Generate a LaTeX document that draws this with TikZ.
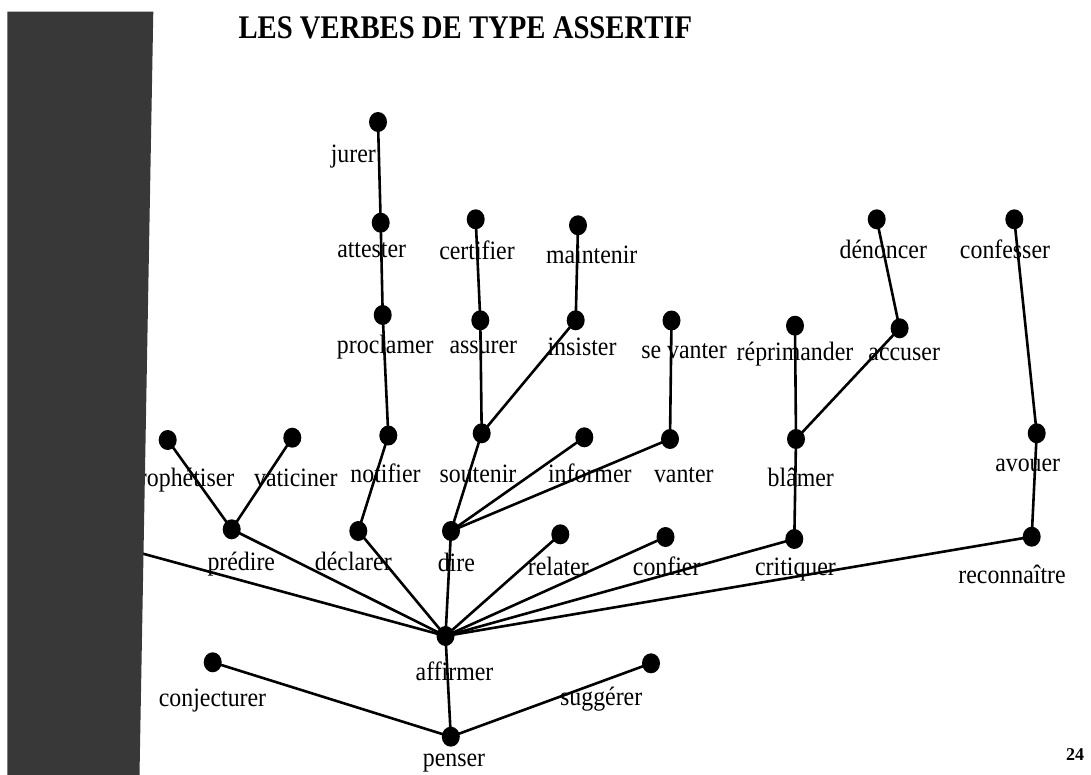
\documentclass[tikz,border=0pt]{standalone}
\usepackage{fontspec}
\usepackage{graphicx}
\setmainfont{Liberation Serif}
\usetikzlibrary{shapes.geometric}
\newcommand{\vb}[1]{\scalebox{0.9}[1]{#1}}
\begin{document}
\begin{tikzpicture}[x=1pt,y=-1pt,
  dot/.style={ellipse,fill=black,draw=none,minimum width=18pt,minimum height=20pt,inner sep=0pt},
  lbl/.style={anchor=base,inner sep=0pt,font=\fontsize{26.5}{30}\selectfont},
  link/.style={line width=2.6pt,line cap=round}]
\useasboundingbox (0,0) rectangle (1091,775);
\fill[white] (0,0) rectangle (1091,775);
% title
\node[anchor=base west,inner sep=0pt] (title) at (238.3,38.3) {\scalebox{0.87}[1]{\fontsize{33}{36}\selectfont\bfseries LES VERBES DE TYPE ASSERTIF}};
\node[anchor=base,inner sep=0pt] (page) at (1075,760) {\fontsize{18}{20}\selectfont\bfseries 24};
% dots
\node[dot] (jurer) at (378,122) {};
\node[dot] (attester) at (380.7,222.7) {};
\node[dot] (proclamer) at (382.7,315) {};
\node[dot] (notifier) at (388.3,435.5) {};
\node[dot] (declarer) at (358.3,531) {};
\node[dot] (predire) at (231.7,529.3) {};
\node[dot] (prophetiser) at (167.7,440) {};
\node[dot] (vaticiner) at (292.3,437.7) {};
\node[dot] (certifier) at (475.7,219.3) {};
\node[dot] (assurer) at (480.3,320.3) {};
\node[dot] (soutenir) at (481.7,433.3) {};
\node[dot] (maintenir) at (578,225.3) {};
\node[dot] (insister) at (575.7,320.3) {};
\node[dot] (sevanter) at (671.5,320.5) {};
\node[dot] (vanter) at (670,439) {};
\node[dot] (informer) at (584.3,437.3) {};
\node[dot] (dire) at (451,531) {};
\node[dot] (relater) at (560.3,534.3) {};
\node[dot] (confier) at (665.5,537) {};
\node[dot] (critiquer) at (794.3,539) {};
\node[dot] (blamer) at (796,439) {};
\node[dot] (reprimander) at (795,325.7) {};
\node[dot] (accuser) at (899.6,328.3) {};
\node[dot] (denoncer) at (876.7,219.3) {};
\node[dot] (confesser) at (1014.3,219.3) {};
\node[dot] (avouer) at (1036.7,433.3) {};
\node[dot] (reconnaitre) at (1031.7,536.7) {};
\node[dot] (affirmer) at (445.5,636) {};
\node[dot] (conjecturer) at (212.7,662.3) {};
\node[dot] (suggerer) at (651,663.3) {};
\node[dot] (penser) at (450.8,736.7) {};
\coordinate (hidden) at (100,542);
% labels
\node[lbl] (l-jurer) at (353.3,162.3) {\vb{jurer}};
\node[lbl] (l-attester) at (371.7,257.7) {\vb{attester}};
\node[lbl] (l-certifier) at (477,259.3) {\vb{certifier}};
\node[lbl] (l-maintenir) at (591.7,263.3) {\vb{maintenir}};
\node[lbl] (l-proclamer) at (385.3,353.3) {\vb{proclamer}};
\node[lbl] (l-assurer) at (483.3,353.3) {\vb{assurer}};
\node[lbl] (l-insister) at (582,355) {\vb{insister}};
\node[lbl] (l-sevanter) at (684,358.5) {\vb{se vanter}};
\node[lbl] (l-reprimander) at (795,360) {\vb{réprimander}};
\node[lbl] (l-accuser) at (904.2,360) {\vb{accuser}};
\node[lbl] (l-denoncer) at (883.3,258.3) {\vb{dénoncer}};
\node[lbl] (l-confesser) at (1005,258.3) {\vb{confesser}};
\node[lbl] (l-prophetiser) at (180.7,486.7) {\vb{prophétiser}};
\node[lbl] (l-vaticiner) at (295.8,486.7) {\vb{vaticiner}};
\node[lbl] (l-notifier) at (385.5,482.7) {\vb{notifier}};
\node[lbl] (l-soutenir) at (478,482.7) {\vb{soutenir}};
\node[lbl] (l-informer) at (589.8,482.7) {\vb{informer}};
\node[lbl] (l-vanter) at (683.8,482.7) {\vb{vanter}};
\node[lbl] (l-blamer) at (800.8,486.7) {\vb{blâmer}};
\node[lbl] (l-avouer) at (1027.7,471.7) {\vb{avouer}};
\node[lbl] (l-predire) at (241.3,570.7) {\vb{prédire}};
\node[lbl] (l-declarer) at (353.3,570.7) {\vb{déclarer}};
\node[lbl] (l-dire) at (456.3,571.7) {\vb{dire}};
\node[lbl] (l-relater) at (558.3,575.7) {\vb{relater}};
\node[lbl] (l-confier) at (666.7,575.7) {\vb{confier}};
\node[lbl] (l-critiquer) at (795.5,575) {\vb{critiquer}};
\node[lbl] (l-reconnaitre) at (1012,583.3) {\vb{reconnaître}};
\node[lbl] (l-affirmer) at (454.5,680) {\vb{affirmer}};
\node[lbl] (l-conjecturer) at (212.5,706.7) {\vb{conjecturer}};
\node[lbl] (l-suggerer) at (601.2,705) {\vb{suggérer}};
\node[lbl] (l-penser) at (454,766.7) {\vb{penser}};
% links
\draw[link] (jurer.center) -- (attester.center);
\draw[link] (attester.center) -- (proclamer.center);
\draw[link] (proclamer.center) -- (notifier.center);
\draw[link] (notifier.center) -- (declarer.center);
\draw[link] (declarer.center) -- (affirmer.center);
\draw[link] (prophetiser.center) -- (predire.center);
\draw[link] (vaticiner.center) -- (predire.center);
\draw[link] (predire.center) -- (affirmer.center);
\draw[link] (certifier.center) -- (assurer.center);
\draw[link] (assurer.center) -- (soutenir.center);
\draw[link] (maintenir.center) -- (insister.center);
\draw[link] (insister.center) -- (soutenir.center);
\draw[link] (soutenir.center) -- (dire.center);
\draw[link] (informer.center) -- (dire.center);
\draw[link] (vanter.center) -- (dire.center);
\draw[link] (sevanter.center) -- (vanter.center);
\draw[link] (dire.center) -- (affirmer.center);
\draw[link] (relater.center) -- (affirmer.center);
\draw[link] (confier.center) -- (affirmer.center);
\draw[link] (critiquer.center) -- (affirmer.center);
\draw[link] (reconnaitre.center) -- (affirmer.center);
\draw[link] (reprimander.center) -- (blamer.center);
\draw[link] (accuser.center) -- (blamer.center);
\draw[link] (denoncer.center) -- (accuser.center);
\draw[link] (blamer.center) -- (critiquer.center);
\draw[link] (confesser.center) -- (avouer.center);
\draw[link] (avouer.center) -- (reconnaitre.center);
\draw[link] (affirmer.center) -- (penser.center);
\draw[link] (conjecturer.center) -- (penser.center);
\draw[link] (suggerer.center) -- (penser.center);
\draw[link] (hidden) -- (affirmer.center);
% left bar
\fill[black!78] (7.3,11.7) -- (153.3,11.7) -- (139.5,775) -- (7.3,775) -- cycle;
\end{tikzpicture}
\end{document}
